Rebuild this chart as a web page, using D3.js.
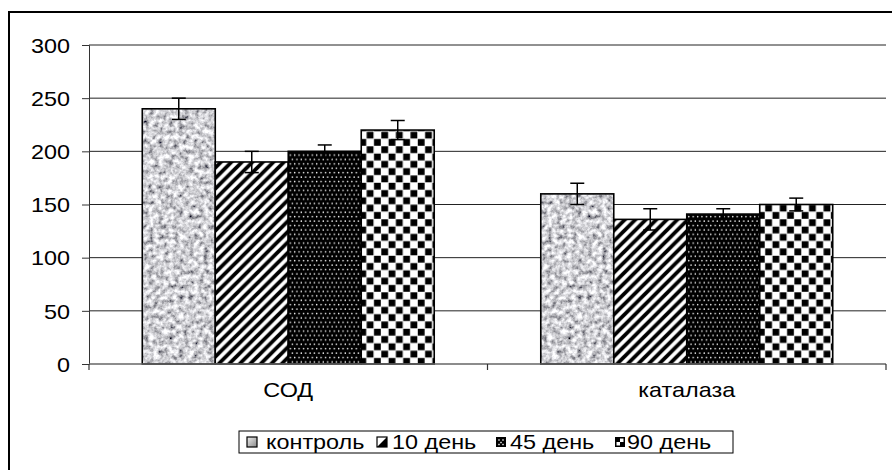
<!DOCTYPE html>
<html><head><meta charset="utf-8">
<script src="https://cdn.jsdelivr.net/npm/d3@7"></script>
<style>body{margin:0;background:#fff}svg{display:block}text{font-family:"Liberation Sans",Arial,sans-serif;font-size:20px;fill:#000}</style>
</head><body><svg id="c" width="892" height="470"></svg>
<script>
const categories = ["СОД", "каталаза"];
const seriesNames = ["контроль", "10 день", "45 день", "90 день"];
const control = [240, 160];
const day10 = [190, 136];
const day45 = [200, 141];
const day90 = [220, 150];
const errControl = [10, 10];
const errDay10 = [10, 10];
const errDay45 = [6, 5];
const errDay90 = [9, 6];
const yTicks = [0, 50, 100, 150, 200, 250, 300];

const seriesVals = [control, day10, day45, day90];
const seriesErr = [errControl, errDay10, errDay45, errDay90];
const fills = ["#999", "url(#pStripe)", "url(#pDots)", "url(#pCheck)"];
const SX = 1.17;

const svg = d3.select("#c");
const defs = svg.append("defs");

// noise filter for control
const f = defs.append("filter").attr("id", "noise").attr("filterUnits", "userSpaceOnUse")
  .attr("x", 0).attr("y", 0).attr("width", 892).attr("height", 470);
f.append("feTurbulence").attr("type", "fractalNoise").attr("baseFrequency", 0.2).attr("numOctaves", 3).attr("seed", 5).attr("result", "t");
f.append("feColorMatrix").attr("in", "t").attr("type", "matrix")
  .attr("values", "1.6 0 0 0 -0.17  1.6 0 0 0 -0.17  1.6 0 0 0 -0.14  0 0 0 0 1").attr("result", "g");
f.append("feComposite").attr("in", "g").attr("in2", "SourceGraphic").attr("operator", "in");

// stripes
const ps = defs.append("pattern").attr("id", "pStripe").attr("patternUnits", "userSpaceOnUse")
  .attr("width", 10.5).attr("height", 10.5);
ps.append("rect").attr("width", 10.5).attr("height", 10.5).attr("fill", "#fff");
ps.append("path").attr("d", "M-5.25,5.25 L5.25,-5.25 M0,10.5 L10.5,0 M5.25,15.75 L15.75,5.25").attr("stroke", "#000").attr("stroke-width", 3.8);

// dots
const pd = defs.append("pattern").attr("id", "pDots").attr("patternUnits", "userSpaceOnUse")
  .attr("width", 4.4).attr("height", 8.8);
pd.append("rect").attr("width", 4.4).attr("height", 8.8).attr("fill", "#000");
pd.append("circle").attr("cx", 1.1).attr("cy", 1.1).attr("r", 0.75).attr("fill", "#fff");
pd.append("circle").attr("cx", 3.3).attr("cy", 5.5).attr("r", 0.75).attr("fill", "#fff");

// checker
const pc = defs.append("pattern").attr("id", "pCheck").attr("patternUnits", "userSpaceOnUse")
  .attr("width", 14.6).attr("height", 14.6);
pc.append("rect").attr("width", 14.6).attr("height", 14.6).attr("fill", "#fff");
pc.append("rect").attr("x", 0.3).attr("y", 0.3).attr("width", 6.8).attr("height", 6.8).attr("fill", "#000");
pc.append("rect").attr("x", 7.6).attr("y", 7.6).attr("width", 6.8).attr("height", 6.8).attr("fill", "#000");

// outer frame
svg.append("rect").attr("x", 9).attr("y", 12).attr("width", 900).attr("height", 500)
  .attr("fill", "none").attr("stroke", "#000").attr("stroke-width", 2);

const pLeft = 89, pRight = 886, pTop = 45, pBottom = 364;
const y = d3.scaleLinear().domain([0, 300]).range([pBottom, pTop]);
const x = d3.scaleBand().domain(categories).range([pLeft, pRight]).padding(0);
const xs = d3.scaleBand().domain(seriesNames).range([0, x.bandwidth()]).paddingInner(0).paddingOuter(0.73);

// gridlines
svg.append("g").selectAll("line").data(yTicks.filter(d => d > 0)).join("line")
  .attr("x1", pLeft).attr("x2", pRight).attr("y1", d => y(d)).attr("y2", d => y(d))
  .attr("stroke", "#222").attr("stroke-width", 1);

// y axis
const ya = svg.append("g").attr("transform", `translate(${pLeft},0)`)
  .call(d3.axisLeft(y).tickValues(yTicks).tickSize(7).tickPadding(12));
ya.select(".domain").attr("stroke", "#333");
ya.selectAll(".tick line").attr("stroke", "#333");
ya.selectAll(".tick text").attr("font-size", 20).attr("fill", "#000")
  .attr("font-family", "Liberation Sans, Arial, sans-serif")
  .each(function () {
    const t = d3.select(this);
    const xx = +t.attr("x");
    t.attr("x", null).attr("dy", "0.36em").attr("transform", `translate(${xx},0) scale(${SX},1)`);
  });

// bars
const groups = svg.append("g").selectAll("g").data(categories).join("g")
  .attr("transform", d => `translate(${x(d)},0)`);
seriesNames.forEach((s, si) => {
  groups.append("rect")
    .attr("x", xs(s)).attr("width", xs.bandwidth())
    .attr("y", (d, ci) => y(seriesVals[si][ci]))
    .attr("height", (d, ci) => y(0) - y(seriesVals[si][ci]))
    .attr("fill", fills[si])
    .attr("filter", si === 0 ? "url(#noise)" : null);
  groups.append("rect")
    .attr("x", xs(s)).attr("width", xs.bandwidth())
    .attr("y", (d, ci) => y(seriesVals[si][ci]))
    .attr("height", (d, ci) => y(0) - y(seriesVals[si][ci]))
    .attr("fill", "none").attr("stroke", "#000").attr("stroke-width", 1.6);
});
// error bars
seriesNames.forEach((s, si) => {
  const cx = xs(s) + xs.bandwidth() / 2;
  const eb = groups.append("g");
  eb.append("line").attr("x1", cx).attr("x2", cx)
    .attr("y1", (d, ci) => y(seriesVals[si][ci] + seriesErr[si][ci]))
    .attr("y2", (d, ci) => y(seriesVals[si][ci] - seriesErr[si][ci]))
    .attr("stroke", "#000").attr("stroke-width", 1.5);
  [1, -1].forEach(sg => {
    eb.append("line").attr("x1", cx - 7).attr("x2", cx + 7)
      .attr("y1", (d, ci) => y(seriesVals[si][ci] + sg * seriesErr[si][ci]))
      .attr("y2", (d, ci) => y(seriesVals[si][ci] + sg * seriesErr[si][ci]))
      .attr("stroke", "#000").attr("stroke-width", 1.5);
  });
});

// x axis
svg.append("line").attr("x1", pLeft).attr("x2", pRight).attr("y1", pBottom).attr("y2", pBottom)
  .attr("stroke", "#666").attr("stroke-width", 1.6);
const xTickPos = [pLeft, x(categories[1]), pRight];
svg.append("g").selectAll("line").data(xTickPos).join("line")
  .attr("x1", d => d).attr("x2", d => d).attr("y1", pBottom).attr("y2", pBottom + 6)
  .attr("stroke", "#333").attr("stroke-width", 1.2);
svg.append("g").selectAll("text").data(categories).join("text")
  .attr("text-anchor", "middle")
  .attr("transform", d => `translate(${x(d) + x.bandwidth() / 2},397) scale(${SX},1)`)
  .text(d => d);

// legend
const lg = svg.append("g");
lg.append("rect").attr("x", 239).attr("y", 431).attr("width", 494).attr("height", 22)
  .attr("fill", "#fff").attr("stroke", "#000").attr("stroke-width", 1);
const swX = [247, 377, 496, 615];
const txX = [266, 392, 510, 627];
const sy = 437, sw = 10;
// control swatch
const gradC = defs.append("linearGradient").attr("id", "gC").attr("x1", 0).attr("y1", 0).attr("x2", 1).attr("y2", 1);
gradC.append("stop").attr("offset", 0).attr("stop-color", "#eee");
gradC.append("stop").attr("offset", 1).attr("stop-color", "#888");
lg.append("rect").attr("x", swX[0]).attr("y", sy).attr("width", sw).attr("height", sw)
  .attr("fill", "url(#gC)").attr("stroke", "#000").attr("stroke-width", 1.2);
// 10 day swatch
lg.append("rect").attr("x", swX[1]).attr("y", sy).attr("width", sw).attr("height", sw)
  .attr("fill", "#fff").attr("stroke", "#000").attr("stroke-width", 1.2);
lg.append("path").attr("d", `M${swX[1] + sw},${sy} L${swX[1] + sw},${sy + sw} L${swX[1]},${sy + sw} Z`).attr("fill", "#000");
// 45 day swatch
lg.append("rect").attr("x", swX[2]).attr("y", sy).attr("width", sw).attr("height", sw).attr("fill", "#000");
[[3, 3], [7, 3], [5, 5.5], [3, 7.5], [7, 7.5]].forEach(p =>
  lg.append("rect").attr("x", swX[2] + p[0] - 0.7).attr("y", sy + p[1] - 0.7).attr("width", 1.4).attr("height", 1.4).attr("fill", "#fff"));
// 90 day swatch
lg.append("rect").attr("x", swX[3]).attr("y", sy).attr("width", sw).attr("height", sw).attr("fill", "#000");
lg.append("rect").attr("x", swX[3] + 5).attr("y", sy + 1.5).attr("width", 3.5).attr("height", 3.5).attr("fill", "#fff");
lg.append("rect").attr("x", swX[3] + 1.5).attr("y", sy + 5).attr("width", 3.5).attr("height", 3.5).attr("fill", "#fff");
lg.selectAll("text.l").data(seriesNames).join("text").attr("class", "l")
  .attr("transform", (d, i) => `translate(${txX[i]},449) scale(${SX},1)`)
  .text(d => d);
</script></body></html>
